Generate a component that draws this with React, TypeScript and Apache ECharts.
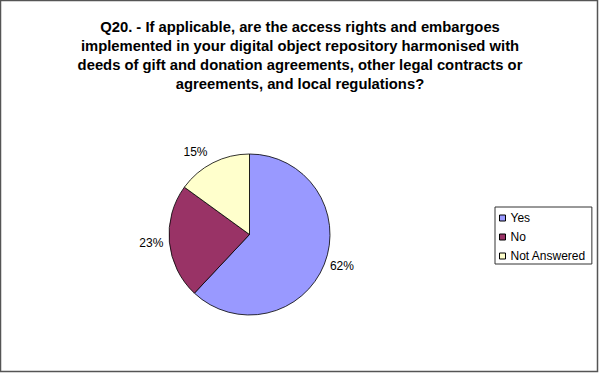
import React, { useEffect, useRef } from "react";
import * as echarts from "echarts";

const categories = ["Yes", "No", "Not Answered"];
const values = [62, 23, 15];
const colors = ["#9999FF", "#993366", "#FFFFCC"];
const labelLengths = [6, 6, 12];
const titleLines = [
  "Q20. - If applicable, are the access rights and embargoes",
  "implemented in your digital object repository harmonised with",
  "deeds of gift and donation agreements, other legal contracts or",
  "agreements, and local regulations?",
];

const FONT = 'Arial, "Liberation Sans", sans-serif';

export default function App() {
  const ref = useRef<HTMLDivElement>(null);
  useEffect(() => {
    if (!ref.current) return;
    const chart = echarts.init(ref.current, undefined, { renderer: "svg" });
    chart.setOption({
      animation: false,
      backgroundColor: "#ffffff",
      title: {
        text: titleLines.join("\n"),
        left: "center",
        top: 17.5,
        padding: 0,
        textStyle: {
          fontFamily: FONT,
          fontSize: 14.8,
          fontWeight: "bold",
          color: "#000",
          lineHeight: 19,
        },
      },
      legend: {
        orient: "vertical",
        left: 495,
        top: 207,
        padding: [4, 6, 1, 4],
        itemGap: 5,
        itemWidth: 6,
        itemHeight: 6,
        icon: "rect",
        borderColor: "#333",
        borderWidth: 1,
        data: categories,
        itemStyle: { borderColor: "#000", borderWidth: 1 },
        textStyle: {
          fontFamily: FONT,
          fontSize: 12,
          color: "#000",
          lineHeight: 14,
          padding: [0, 0, 0, 0],
        },
      },
      graphic: [
        {
          type: "rect",
          shape: { x: 0.5, y: 0.5, width: 597, height: 371 },
          style: { fill: "none", stroke: "#555", lineWidth: 1.5 },
          silent: true,
        },
      ],
      series: [
        {
          type: "pie",
          center: [249.5, 234.5],
          radius: 80.5,
          startAngle: 90,
          clockwise: true,
          avoidLabelOverlap: false,
          itemStyle: { borderColor: "#000", borderWidth: 0.8 },
          label: {
            show: true,
            position: "outside",
            formatter: "{d}%",
            fontFamily: FONT,
            fontSize: 12,
            color: "#000",
            distanceToLabelLine: 0,
          },
          labelLine: { show: false, length: 6, length2: 0 },
          emphasis: { disabled: true },
          data: categories.map((name, i) => ({
            name,
            value: values[i],
            itemStyle: { color: colors[i] },
            labelLine: { show: false, length: labelLengths[i], length2: 0 },
          })),
        },
      ],
    });
    return () => chart.dispose();
  }, []);
  return (
    <div
      ref={ref}
      style={{ position: "fixed", left: 0, top: 0, width: 600, height: 374 }}
    />
  );
}
